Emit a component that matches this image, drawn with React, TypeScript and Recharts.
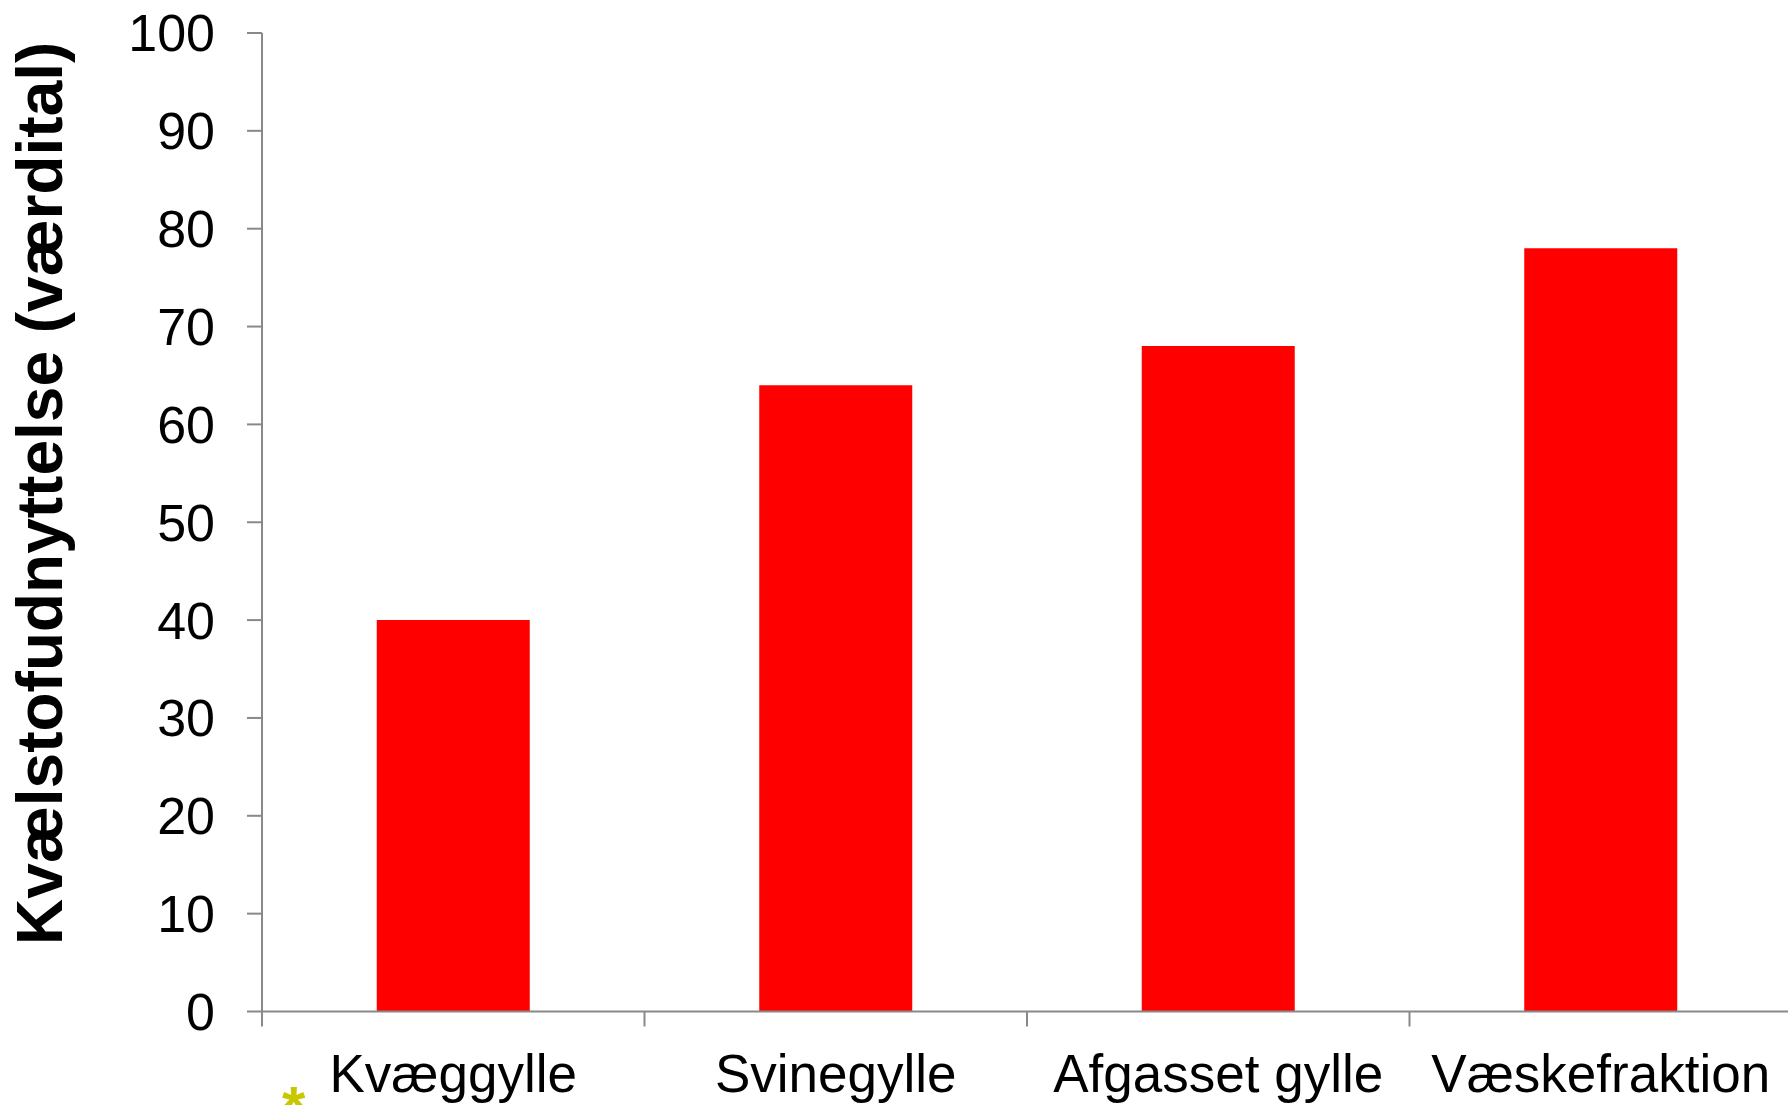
import { BarChart, Bar, XAxis, YAxis } from 'recharts';

const categories = ['Kvæggylle', 'Svinegylle', 'Afgasset gylle', 'Væskefraktion'];
const values = [40, 64, 68, 78];
const yTicks = [0, 10, 20, 30, 40, 50, 60, 70, 80, 90, 100];
const yTitle = 'Kvælstofudnyttelse (værdital)';

const data = categories.map((name, i) => ({ name, value: values[i] }));

const FONT = '"Liberation Sans", Arial, sans-serif';
const AXIS = '#898989';
const LABEL_GAP = 43;

const YTitle = (props: any) => {
  const vb = props.viewBox || { x: 0, y: 0, width: 0, height: 0 };
  const x = vb.x + 62;
  const y = vb.y + vb.height / 2 - 29;
  return (
    <text
      x={x}
      y={y}
      transform={`rotate(-90, ${x}, ${y})`}
      textAnchor="middle"
      fontFamily={FONT}
      fontWeight="bold"
      fontSize={64}
      fill="#000"
    >
      {yTitle}
    </text>
  );
};

// category label centred in the band, tick mark on the band's left edge
const CatTick = (props: any) => {
  const { x, y, payload } = props;
  const half = payload && payload.offset ? payload.offset : 0;
  const axisY = y - LABEL_GAP;
  return (
    <g>
      <line x1={x - half} x2={x - half} y1={axisY} y2={axisY + 15} stroke={AXIS} strokeWidth={2} />
      <text x={x} y={y} dy="0.71em" textAnchor="middle" fontFamily={FONT} fontSize={53} fill="#000">
        {payload.value}
      </text>
    </g>
  );
};

export default function App() {
  return (
    <div style={{ position: 'absolute', left: 0, top: 0, width: 1788, height: 1105, background: '#fff', overflow: 'hidden' }}>
      <BarChart
        width={1788}
        height={1105}
        data={data}
        margin={{ top: 33, right: -4, left: 0, bottom: 0 }}
        barCategoryGap="30%"
      >
        <XAxis
          dataKey="name"
          height={93.5}
          axisLine={{ stroke: AXIS, strokeWidth: 2 }}
          tickLine={false}
          tickSize={0}
          tickMargin={LABEL_GAP}
          tick={<CatTick />}
          interval={0}
        />
        <YAxis
          width={262}
          domain={[0, 100]}
          ticks={yTicks}
          interval={0}
          axisLine={{ stroke: AXIS, strokeWidth: 2 }}
          tickLine={{ stroke: AXIS, strokeWidth: 2 }}
          tickSize={15}
          tickMargin={32}
          tick={{ fontSize: 52, fill: '#000', fontFamily: FONT }}
          label={<YTitle />}
        />
        <Bar dataKey="value" fill="#FF0000" isAnimationActive={false} />
      </BarChart>
      <span
        style={{
          position: 'absolute',
          left: 282,
          top: 1078,
          color: '#c8c800',
          fontFamily: FONT,
          fontWeight: 'bold',
          fontSize: 60,
          lineHeight: 1,
        }}
      >
        *
      </span>
    </div>
  );
}
